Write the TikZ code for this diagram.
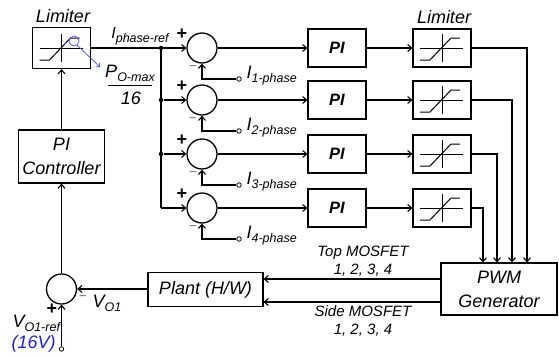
\documentclass[tikz,border=0pt]{standalone}
\usepackage{fontspec}
\setmainfont{Liberation Sans}
\usetikzlibrary{arrows.meta,calc}
\definecolor{lblue}{RGB}{90,90,255}
\definecolor{dblue}{RGB}{30,30,230}
\newcommand{\sbs}[2]{#1\raisebox{-4pt}{\fontsize{12.5}{13}\selectfont #2}}
\newcommand{\limsym}[1]{%
  \draw[line width=1pt] ($(#1)+(-22,0)$) -- ($(#1)+(21,0)$);
  \draw[line width=1pt] ($(#1)+(0,-14)$) -- ($(#1)+(0,14)$);
  \draw[line width=1pt] ($(#1)+(-22,12)$) -- ++(10,0) -- ++(21,-22) -- ++(9,0);}
\begin{document}
\begin{tikzpicture}[x=1pt,y=-1pt,
  font=\fontsize{18}{21}\selectfont\itshape, line width=1.1pt,
  box/.style={draw, rectangle, inner sep=0pt, line width=1.1pt},
  sumc/.style={draw, circle, minimum size=30pt, inner sep=0pt, line width=1.3pt},
  arr/.style={-{Straight Barb[length=4pt,width=7pt]}},
  term/.style={draw, circle, minimum size=4.5pt, inner sep=0pt, line width=0.8pt, fill=white},
  dot/.style={fill, circle, minimum size=4.5pt, inner sep=0pt},
  lbl/.style={inner sep=0pt},
  sgn/.style={inner sep=0pt, font=\fontsize{18}{18}\selectfont\bfseries},
  msgn/.style={inner sep=0pt, font=\fontsize{13}{13}\selectfont, text=black!60}]
\useasboundingbox (0,0) rectangle (559,356);

% left limiter and PI controller
\node[box, minimum width=58pt, minimum height=41pt] (lim0) at (61.5,48) {};
\limsym{lim0}
\node[lbl] (limlbl0) at (63,16) {Limiter};
\node[box, minimum width=86pt, minimum height=53pt, align=center, font=\fontsize{18}{24}\selectfont\itshape] (pic) at (61.5,156.5) {PI\\Controller};
\node[sumc] (s0) at (61.5,289) {};
\node[term] (tin) at (61.5,349) {};
\draw[arr] (tin) -- (s0);
\draw[arr] (s0) -- (pic);
\draw[arr] (pic) -- (lim0);

% blue annotation
\draw[lblue, line width=0.8pt] (74,41) circle (5);
\coordinate (bl1) at (77,45);
\coordinate (bl2) at (100,67);
\draw[lblue, line width=0.8pt, -{Straight Barb[length=2.5pt,width=5pt]}] (bl1) -- (bl2);

% labels near limiter
\node[lbl, font=\fontsize{16}{18}\selectfont\itshape] (iref) at (140,36) {\sbs{I}{phase-ref}};
\node[lbl] (pnum) at (130,73) {\sbs{P}{O-max}};
\draw[line width=1pt] (108,85) -- (152,85);
\node[lbl] (pden) at (131,98) {16};

% branch
\node[dot] (j1) at (161,48) {};
\node[dot] (j2) at (161,100) {};
\node[dot] (j3) at (161,154) {};
\coordinate (j4) at (161,208);
\draw (j1.center) -- (j4);

% phase rows
\foreach \i/\y in {1/48,2/100,3/154,4/208}{
  \node[sumc] (s\i) at (202,\y) {};
  \node[box, minimum width=58pt, minimum height=38pt, font=\fontsize{16.5}{18}\selectfont\bfseries\itshape] (p\i) at (337,\y) {PI};
  \node[box, minimum width=58pt, minimum height=38pt] (l\i) at (442,\y) {};
  \limsym{l\i}
  \draw[arr] (s\i) -- (p\i);
  \draw[arr] (p\i) -- (l\i);
  \node[term] (t\i) at (239,\y+31) {};
  \draw[arr] (t\i.west) -| (s\i.south);
  \node[lbl, anchor=west] (il\i) at (246,\y+28) {\sbs{I}{\i-phase}};
  \node[sgn] (pl\i) at (182,\y-14) {+};
  \node[msgn] (mi\i) at (193,\y+20) {−};
}
\draw[arr] (lim0) -- (s1);
\draw[arr] (j2) -- (s2);
\draw[arr] (j3) -- (s3);
\draw[arr] (j4) -- (s4);
\node[lbl] (limlbl1) at (444,17) {Limiter};

% PWM generator and plant
\node[box, minimum width=116pt, minimum height=52pt, align=center, font=\fontsize{18}{24}\selectfont\itshape] (pwm) at (499,289) {PWM\\Generator};
\node[box, minimum width=115pt, minimum height=34pt] (plant) at (205.5,289.5) {Plant (H/W)};
\draw[arr] (plant.west |- s0) -- (s0);
\draw[arr] ($(pwm.west)+(0,-10)$) -- ($(plant.east)+(0,-10.5)$);
\draw[arr] ($(pwm.west)+(0,13)$) -- ($(plant.east)+(0,12.5)$);

\foreach \i/\x in {1/527,2/512,3/497,4/483}{
  \coordinate (c\i) at (\x,0);
  \draw[arr] (l\i.east) -| (c\i |- pwm.north);
}

\node[lbl, align=center, font=\fontsize{15}{18}\selectfont\itshape] (top) at (363,261) {Top MOSFET\\1, 2, 3, 4};
\node[lbl, align=center, font=\fontsize{15}{18}\selectfont\itshape] (side) at (363,321) {Side MOSFET\\1, 2, 3, 4};

% feedback summing labels
\node[msgn] (mv) at (83,298) {−};
\node[lbl, anchor=west] (vo) at (92,303) {\sbs{V}{O1}};
\node[sgn] (pv) at (52,309) {+};
\node[lbl, anchor=west] (vref) at (12,323) {\sbs{V}{O1-ref}};
\node[lbl, anchor=west, text=dblue] (v16) at (11,344) {(16V)};
\end{tikzpicture}
\end{document}
